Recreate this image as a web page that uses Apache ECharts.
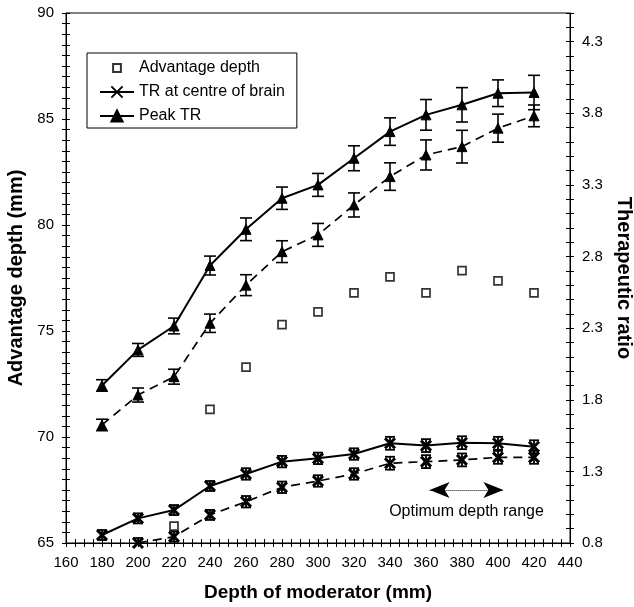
<!DOCTYPE html>
<html>
<head>
<meta charset="utf-8">
<title>Advantage depth and therapeutic ratio vs depth of moderator</title>
<script src="https://cdn.jsdelivr.net/npm/echarts@6/dist/echarts.min.js"></script>
<style>
  html, body { margin: 0; padding: 0; background: #fff; }
  #chart { width: 634px; height: 607px; }
</style>
</head>
<body>
<div id="chart"></div>
<script>
// Moderator depths (mm)
const depths = [180, 200, 220, 240, 260, 280, 300, 320, 340, 360, 380, 400, 420];

// Advantage depth (mm), left axis
const advDepthX = [220, 240, 260, 280, 300, 320, 340, 360, 380, 400, 420];
const advantageDepth = [65.8, 71.3, 73.3, 75.3, 75.9, 76.8, 77.55, 76.8, 77.85, 77.36, 76.8];

// Therapeutic ratio at centre of brain, right axis
const trCentreSolid  = [0.856, 0.972, 1.03, 1.198, 1.282, 1.368, 1.391, 1.421, 1.496, 1.48, 1.50, 1.496, 1.472];
const trCentreDashed = [null, 0.80, 0.844, 0.996, 1.088, 1.189, 1.233, 1.282, 1.357, 1.368, 1.38, 1.398, 1.398];
const trCentreSolidErr  = [0.035, 0.035, 0.035, 0.035, 0.04, 0.04, 0.04, 0.04, 0.045, 0.045, 0.045, 0.045, 0.045];
const trCentreDashedErr = [0.035, 0.035, 0.035, 0.035, 0.04, 0.04, 0.04, 0.04, 0.045, 0.045, 0.045, 0.045, 0.045];

// Peak therapeutic ratio, right axis
const peakSolid  = [1.90, 2.148, 2.315, 2.737, 2.99, 3.207, 3.30, 3.486, 3.672, 3.789, 3.859, 3.94, 3.945];
const peakDashed = [1.624, 1.833, 1.961, 2.334, 2.60, 2.834, 2.951, 3.16, 3.358, 3.509, 3.567, 3.696, 3.782];
const peakSolidErr  = [0.04, 0.045, 0.055, 0.066, 0.079, 0.078, 0.08, 0.087, 0.096, 0.107, 0.12, 0.093, 0.12];
const peakDashedErr = [0.04, 0.049, 0.052, 0.064, 0.073, 0.076, 0.08, 0.084, 0.096, 0.105, 0.114, 0.098, 0.076];

// Axis tick settings
const xMajor = 20, leftMajor = 5, rightMajor = 0.5, rightMin = 0.8;

const FONT = '"Liberation Sans", Arial, Helvetica, sans-serif';
const BLACK = '#000';

function pairs(xs, ys) {
  return xs.map((x, i) => [x, ys[i]]).filter(p => p[1] != null);
}

function errorBars(values, errs, cap, width) {
  return {
    type: 'custom',
    xAxisIndex: 0,
    yAxisIndex: 1,
    silent: true,
    z: 3,
    clip: true,
    data: depths.map((x, i) => values[i] == null ? null : [x, values[i] - errs[i], values[i] + errs[i]]).filter(Boolean),
    encode: { x: 0, y: [1, 2] },
    renderItem(params, api) {
      const lo = api.coord([api.value(0), api.value(1)]);
      const hi = api.coord([api.value(0), api.value(2)]);
      const style = { stroke: BLACK, lineWidth: width };
      return {
        type: 'group',
        children: [
          { type: 'line', shape: { x1: lo[0], y1: lo[1], x2: hi[0], y2: hi[1] }, style },
          { type: 'line', shape: { x1: lo[0] - cap, y1: lo[1], x2: lo[0] + cap, y2: lo[1] }, style },
          { type: 'line', shape: { x1: hi[0] - cap, y1: hi[1], x2: hi[0] + cap, y2: hi[1] }, style }
        ]
      };
    }
  };
}

const crossSymbol = 'path://M0 0L10 10M10 0L0 10';
// Small open square for the legend (outer move-to points leave margin round it)
const legendSquare = 'path://M-4 -4M0 0H10V10H0ZM14 14';

const axisLabelStyle = { color: BLACK, fontFamily: FONT, fontSize: 15 };
const nameStyle = { color: BLACK, fontFamily: FONT, fontSize: 19, fontWeight: 'bold' };

// Tick marks crossing the axis line: outer ticks on the main axes, inner ticks on twins
function twinTicks(base) {
  return Object.assign({}, base, {
    name: '',
    axisLine: { show: false },
    axisLabel: { show: false },
    axisTick: { show: true, inside: true, length: 4, lineStyle: { color: BLACK, width: 1 } },
    splitLine: { show: false }
  });
}

const xBase = { type: 'value', min: 160, max: 440, interval: 5, position: 'bottom' };
const leftBase = { type: 'value', min: 65, max: 90, interval: 0.5, position: 'left' };
const rightBase = { type: 'value', min: rightMin, max: 4.5, interval: 0.1, position: 'right' };

const option = {
  animation: false,
  backgroundColor: '#fff',
  textStyle: { fontFamily: FONT },
  grid: {
    left: 66, right: 64, top: 13, bottom: 64,
    outerBoundsMode: 'none',
    containLabel: false,
    show: true, borderColor: BLACK, borderWidth: 1, backgroundColor: 'transparent'
  },
  legend: {
    orient: 'vertical',
    left: 87, top: 53,
    padding: [7, 12, 4, 12],
    borderColor: BLACK, borderWidth: 1,
    itemGap: 8, itemWidth: 34, itemHeight: 14,
    textStyle: { color: BLACK, fontFamily: FONT, fontSize: 16 },
    data: [
      { name: 'Advantage depth', icon: legendSquare },
      'TR at centre of brain',
      'Peak TR'
    ],
    selectedMode: false
  },
  xAxis: [
    Object.assign({}, xBase, {
      name: 'Depth of moderator (mm)',
      nameLocation: 'middle', nameGap: 40, nameTextStyle: nameStyle,
      axisLine: { show: true, lineStyle: { color: BLACK, width: 1 } },
      axisTick: { show: true, length: 4, lineStyle: { color: BLACK, width: 1 } },
      axisLabel: Object.assign({}, axisLabelStyle, {
        margin: 12,
        formatter: v => (Math.round(v) % xMajor === 0 ? String(Math.round(v)) : '')
      }),
      splitLine: { show: false }
    }),
    twinTicks(xBase)
  ],
  yAxis: [
    Object.assign({}, leftBase, {
      name: 'Advantage depth (mm)',
      nameLocation: 'middle', nameGap: 38, nameTextStyle: Object.assign({}, nameStyle, { fontSize: 20 }),
      axisLine: { show: true, lineStyle: { color: BLACK, width: 1 } },
      axisTick: { show: true, length: 4, lineStyle: { color: BLACK, width: 1 } },
      axisLabel: Object.assign({}, axisLabelStyle, {
        margin: 12,
        formatter: v => {
          const k = v / leftMajor;
          return Math.abs(k - Math.round(k)) < 1e-6 ? String(Math.round(v)) : '';
        }
      }),
      splitLine: { show: false }
    }),
    Object.assign({}, rightBase, {
      name: 'Therapeutic ratio',
      nameLocation: 'middle', nameGap: 42, nameRotate: -90,
      nameTextStyle: Object.assign({}, nameStyle, { fontSize: 20 }),
      axisLine: { show: true, lineStyle: { color: BLACK, width: 1 } },
      axisTick: { show: true, length: 4, lineStyle: { color: BLACK, width: 1 } },
      axisLabel: Object.assign({}, axisLabelStyle, {
        margin: 12,
        formatter: v => {
          const k = (v - rightMin) / rightMajor;
          return Math.abs(k - Math.round(k)) < 1e-6 ? v.toFixed(1) : '';
        }
      }),
      splitLine: { show: false }
    }),
    twinTicks(leftBase),
    twinTicks(rightBase)
  ],
  series: [
    {
      name: 'Advantage depth',
      type: 'scatter',
      yAxisIndex: 0,
      symbol: 'rect',
      symbolSize: 8,
      z: 4,
      itemStyle: { color: '#fff', borderColor: BLACK, borderWidth: 1.7 },
      data: pairs(advDepthX, advantageDepth)
    },
    errorBars(trCentreSolid, trCentreSolidErr, 5, 1.8),
    errorBars(trCentreDashed, trCentreDashedErr, 5, 1.8),
    errorBars(peakSolid, peakSolidErr, 6, 1.6),
    errorBars(peakDashed, peakDashedErr, 6, 1.6),
    {
      name: 'TR at centre of brain',
      type: 'line',
      yAxisIndex: 1,
      symbol: crossSymbol,
      symbolSize: 10,
      z: 4,
      lineStyle: { color: BLACK, width: 2 },
      itemStyle: { color: BLACK, borderColor: BLACK, borderWidth: 3 },
      data: pairs(depths, trCentreSolid),
      markLine: {
        silent: true,
        symbol: ['arrow', 'arrow'],
        symbolSize: [12, 20],
        lineStyle: { color: BLACK, type: 'dotted', width: 1 },
        label: {
          show: true,
          position: 'insideMiddleBottom',
          distance: 14,
          formatter: 'Optimum depth range',
          color: BLACK, fontFamily: FONT, fontSize: 16
        },
        data: [[{ coord: [362, 1.17] }, { coord: [403, 1.17] }]]
      }
    },
    {
      name: 'TR at centre of brain',
      type: 'line',
      yAxisIndex: 1,
      symbol: crossSymbol,
      symbolSize: 10,
      z: 4,
      lineStyle: { color: BLACK, width: 1.7, type: [9, 6] },
      itemStyle: { color: BLACK, borderColor: BLACK, borderWidth: 3 },
      data: pairs(depths, trCentreDashed)
    },
    {
      name: 'Peak TR',
      type: 'line',
      yAxisIndex: 1,
      symbol: 'triangle',
      symbolSize: 10,
      z: 4,
      lineStyle: { color: BLACK, width: 2 },
      itemStyle: { color: BLACK, borderColor: BLACK, borderWidth: 1 },
      data: pairs(depths, peakSolid)
    },
    {
      name: 'Peak TR',
      type: 'line',
      yAxisIndex: 1,
      symbol: 'triangle',
      symbolSize: 10,
      z: 4,
      lineStyle: { color: BLACK, width: 1.7, type: [9, 6] },
      itemStyle: { color: BLACK, borderColor: BLACK, borderWidth: 1 },
      data: pairs(depths, peakDashed)
    }
  ]
};

const chart = echarts.init(document.getElementById('chart'), null, { renderer: 'canvas' });
chart.setOption(option);
</script>
</body>
</html>
